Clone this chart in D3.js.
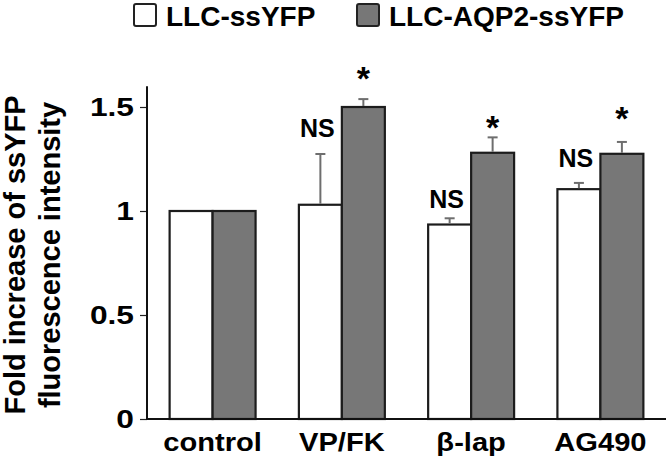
<!DOCTYPE html>
<html><head><meta charset="utf-8">
<script src="https://cdn.jsdelivr.net/npm/d3@7"></script>
<style>body{margin:0;background:#fff}svg{display:block}</style>
</head><body>
<svg id="chart" width="668" height="467"></svg>
<script>
const categories = ["control", "VP/FK", "β-lap", "AG490"];
const seriesNames = ["LLC-ssYFP", "LLC-AQP2-ssYFP"];
const llcValues = [1.0, 1.03, 0.935, 1.105];
const llcErrors = [0, 0.244, 0.03, 0.03];
const aqp2Values = [1.0, 1.50, 1.28, 1.275];
const aqp2Errors = [0, 0.038, 0.074, 0.057];
const llcMarks = ["", "NS", "NS", "NS"];
const llcMarkLevels = [null, 1.357, 1.013, 1.213];
const aqp2Marks = ["", "*", "*", "*"];
const aqp2MarkLevels = [null, 1.635, 1.398, 1.442];
const yTicks = [0, 0.5, 1, 1.5];
const yTickLabels = ["0", "0.5", "1", "1.5"];
const yMax = 1.6;

const FONT = "'Liberation Sans', Arial, Helvetica, sans-serif";
const fills = ["#ffffff", "#777777"];
const svg = d3.select("#chart");

const x = d3.scaleBand().domain(categories).range([147, 666]).paddingInner(0.335).paddingOuter(0.175);
const xs = d3.scaleBand().domain([0, 1]).range([0, x.bandwidth()]);
const y = d3.scaleLinear().domain([0, yMax]).range([419, 86.2]);

const series = [
  {values: llcValues, errors: llcErrors, marks: llcMarks, levels: llcMarkLevels},
  {values: aqp2Values, errors: aqp2Errors, marks: aqp2Marks, levels: aqp2MarkLevels}
];

// bars
series.forEach((s, si) => {
  const g = svg.append("g");
  g.selectAll("rect").data(categories).join("rect")
    .attr("x", d => x(d) + xs(si))
    .attr("y", (d, i) => y(s.values[i]))
    .attr("width", xs.bandwidth())
    .attr("height", (d, i) => y(0) - y(s.values[i]))
    .attr("fill", fills[si])
    .attr("stroke", "#1c1c1c")
    .attr("stroke-width", 2.2);
  // error bars
  const eg = svg.append("g").attr("stroke", "#6e6e6e").attr("stroke-width", 2);
  categories.forEach((c, i) => {
    if (!s.errors[i]) return;
    const cx = x(c) + xs(si) + xs.bandwidth() / 2;
    const yTop = y(s.values[i] + s.errors[i]);
    eg.append("line").attr("x1", cx).attr("x2", cx).attr("y1", y(s.values[i]) - 1).attr("y2", yTop);
    eg.append("line").attr("x1", cx - 5).attr("x2", cx + 5).attr("y1", yTop).attr("y2", yTop);
  });
  // significance marks
  categories.forEach((c, i) => {
    if (!s.marks[i]) return;
    const cx = x(c) + xs(si) + xs.bandwidth() / 2;
    const isStar = s.marks[i] === "*";
    svg.append("text")
      .attr("x", cx - (isStar ? 0 : 3))
      .attr("y", y(s.levels[i]) + (isStar ? 11 : 0))
      .attr("text-anchor", "middle")
      .attr("font-family", FONT)
      .attr("font-weight", "bold")
      .attr("font-size", isStar ? 34 : 25)
      .attr("fill", "#000")
      .text(s.marks[i]);
  });
});

// y axis
const yAxis = svg.append("g").attr("transform", "translate(147,0)")
  .call(d3.axisLeft(y).tickValues(yTicks).tickFormat((d, i) => yTickLabels[i]).tickSizeInner(7).tickSizeOuter(0).tickPadding(6));
yAxis.select(".domain").remove();
yAxis.selectAll(".tick line").attr("stroke", "#222").attr("stroke-width", 1.2);
yAxis.selectAll(".tick text")
  .attr("x", 0)
  .attr("transform", "translate(-13,0) scale(1.22,1)")
  .attr("font-family", FONT).attr("font-weight", "bold").attr("font-size", 26).attr("fill", "#000");
svg.append("line").attr("x1", 147).attr("x2", 147).attr("y1", y(yMax)).attr("y2", y(0) + 1)
  .attr("stroke", "#111").attr("stroke-width", 2);

// x axis
const xAxis = svg.append("g").attr("transform", "translate(0,419)")
  .call(d3.axisBottom(x).tickSizeInner(0).tickSizeOuter(0).tickPadding(14));
xAxis.select(".domain").remove();
xAxis.selectAll(".tick text")
  .attr("transform", "scale(1.12,1)")
  .attr("font-family", FONT).attr("font-weight", "bold").attr("font-size", 26).attr("fill", "#000");
svg.append("line").attr("x1", 146).attr("x2", 666).attr("y1", 419).attr("y2", 419)
  .attr("stroke", "#111").attr("stroke-width", 2);

// y label
const yl = ["Fold increase of ssYFP", "fluorescence intensity"];
[25, 60].forEach((px, i) => {
  svg.append("text").attr("transform", `translate(${px},255) rotate(-90)`)
    .attr("text-anchor", "middle").attr("font-family", FONT).attr("font-weight", "bold")
    .attr("font-size", 29).attr("fill", "#000").text(yl[i]);
});

// legend
const legX = [133, 356];
seriesNames.forEach((n, i) => {
  svg.append("rect").attr("x", legX[i] + 1).attr("y", 4).attr("width", 22).attr("height", 22).attr("rx", 2)
    .attr("fill", fills[i]).attr("stroke", "#222").attr("stroke-width", 2);
  svg.append("text").attr("x", legX[i] + 33).attr("y", 26).attr("font-family", FONT).attr("font-weight", "bold")
    .attr("font-size", 28).attr("fill", "#000").text(n);
});
</script>
</body></html>
